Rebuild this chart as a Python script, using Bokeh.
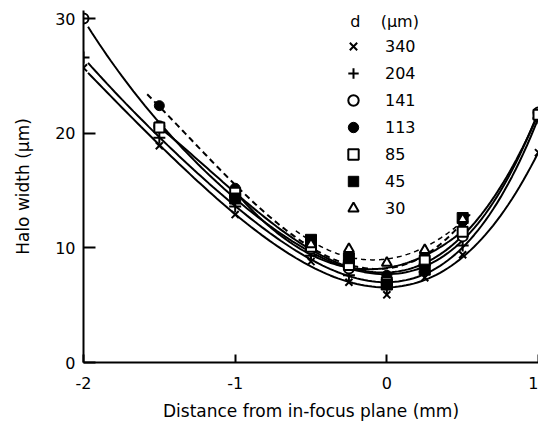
import numpy as np
from bokeh.plotting import figure
from bokeh.models import Legend, LegendItem, FixedTicker, Range1d
from bokeh.embed import file_html
from bokeh.resources import INLINE

# ---- data ----
x_340 = [-2, -1.5, -1, -0.5, -0.25, 0, 0.25, 0.5, 1]
y_340 = [25.7, 18.9, 12.9, 8.8, 7.0, 5.9, 7.4, 9.4, 18.3]
x_204 = [-2, -1.5, -1, -0.5, -0.25, 0, 0.25, 0.5, 1]
y_204 = [26.6, 19.6, 13.6, 9.3, 7.6, 6.4, 7.9, 10.2, 21.3]
x_141 = [-2, -1.5, -1, -0.5, -0.25, 0, 0.25, 0.5, 1]
y_141 = [30.0, 20.6, 14.6, 9.9, 8.2, 6.9, 8.6, 11.0, 21.8]
x_113 = [-1.5, -1, -0.5, -0.25, 0, 0.25, 0.5]
y_113 = [22.4, 15.2, 10.4, 8.8, 7.6, 9.5, 12.3]
x_85 = [-1.5, -1, -0.5, -0.25, 0, 0.25, 0.5, 1]
y_85 = [20.5, 14.8, 10.1, 8.5, 7.0, 8.9, 11.4, 21.6]
x_45 = [-1, -0.5, -0.25, 0, 0.25, 0.5]
y_45 = [14.3, 10.7, 9.1, 6.8, 8.1, 12.6]
x_30 = [-0.5, -0.25, 0, 0.25, 0.5]
y_30 = [10.3, 9.9, 8.7, 9.8, 12.5]

x_ticks = [-2, -1, 0, 1]
x_tick_labels = ["-2", "-1", "0", "1"]
y_ticks = [0, 10, 20, 30]

FONT = "DejaVu Sans"

p = figure(width=538, height=423, output_backend="svg", toolbar_location=None,
           x_range=Range1d(-2, 1.0), y_range=Range1d(0, 30.7),
           min_border_left=83, min_border_right=0, min_border_top=10,
           min_border_bottom=60)
p.outline_line_color = None
p.xgrid.visible = False
p.ygrid.visible = False
p.background_fill_color = "white"
p.border_fill_color = "white"


def fit_curve(xs, ys, deg, x0=None, x1=None, **kw):
    c = np.polyfit(xs, ys, deg)
    a = min(xs) if x0 is None else x0
    b = max(xs) if x1 is None else x1
    xx = np.linspace(a, b, 120)
    p.line(xx, np.polyval(c, xx), line_color="black", **kw)


fit_curve(x_340, y_340, 4, x0=-1.97, line_width=2)
fit_curve(x_204, y_204, 4, x0=-1.97, line_width=2)
fit_curve(x_141, y_141, 4, x0=-1.97, line_width=2)
fit_curve(x_85, y_85, 3, line_width=2)
fit_curve(x_113, y_113, 3, x0=-1.58, x1=0.55, line_width=2, line_dash="6 4")
fit_curve(x_45, y_45, 2, line_width=2)
fit_curve(x_30, y_30, 2, x0=-0.6, x1=0.55, line_width=1.5, line_dash="5 4")

r340 = p.scatter(x_340, y_340, marker="x", size=10, line_width=2, line_color="black")
r204 = p.scatter(x_204, y_204, marker="cross", size=12, line_width=2, line_color="black")
r141 = p.scatter(x_141, y_141, marker="circle", size=10, line_width=2,
                 line_color="black", fill_color="white")
r113 = p.scatter(x_113, y_113, marker="circle", size=10, line_color="black",
                 fill_color="black")
r85 = p.scatter(x_85, y_85, marker="square", size=10, line_width=2,
                line_color="black", fill_color="white")
r45 = p.scatter(x_45, y_45, marker="square", size=11, line_color="black",
                fill_color="black")
r30 = p.scatter(x_30, y_30, marker="triangle", size=10, line_width=2,
                line_color="black", fill_color="white")

# axes
for ax in (p.xaxis[0], p.yaxis[0]):
    ax.axis_line_width = 2
    ax.axis_line_color = "black"
    ax.major_tick_line_width = 2
    ax.major_tick_line_color = "black"
    ax.minor_tick_line_color = None
    ax.major_tick_out = 0
    ax.major_label_text_font = FONT
    ax.major_label_text_font_size = "16px"
    ax.major_label_text_color = "black"
    ax.axis_label_text_font = FONT
    ax.axis_label_text_font_size = "17px"
    ax.axis_label_text_font_style = "normal"
    ax.axis_label_text_color = "black"

p.xaxis[0].ticker = FixedTicker(ticks=x_ticks)
p.xaxis[0].major_label_overrides = {t: s for t, s in zip(x_ticks, x_tick_labels)}
p.yaxis[0].ticker = FixedTicker(ticks=y_ticks)
p.xaxis[0].major_tick_in = 8
p.yaxis[0].major_tick_in = 12
p.xaxis[0].major_label_standoff = 14
p.yaxis[0].major_label_standoff = 8
p.xaxis[0].axis_label = "Distance from in-focus plane (mm)"
p.yaxis[0].axis_label = "Halo width (\u03bcm)"
p.xaxis[0].axis_label_standoff = 9
p.yaxis[0].axis_label_standoff = 19

legend = Legend(
    items=[LegendItem(label="340", renderers=[r340]),
           LegendItem(label="204", renderers=[r204]),
           LegendItem(label="141", renderers=[r141]),
           LegendItem(label="113", renderers=[r113]),
           LegendItem(label="85", renderers=[r85]),
           LegendItem(label="45", renderers=[r45]),
           LegendItem(label="30", renderers=[r30])],
    location=(257, 141),
    title="\u00a0\u00a0d\u00a0\u00a0\u00a0\u00a0(\u03bcm)",
    title_text_font=FONT, title_text_font_size="16px",
    title_text_font_style="normal", title_text_color="black", title_standoff=2,
    label_text_font=FONT, label_text_font_size="16px", label_text_color="black",
    glyph_width=26, glyph_height=26, label_height=20,
    label_standoff=19, spacing=1, padding=0, margin=0,
    border_line_alpha=0, background_fill_alpha=0,
)
p.add_layout(legend)

open("out.html", "w").write(file_html(p, INLINE))
